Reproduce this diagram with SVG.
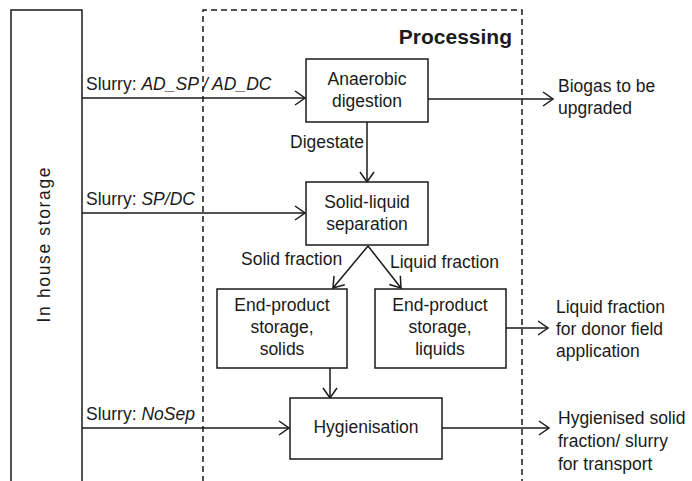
<svg xmlns="http://www.w3.org/2000/svg" width="692" height="481" viewBox="0 0 692 481">
  <style>
    text { font-family: "Liberation Sans", Arial, sans-serif; font-size: 17.5px; fill: #1a1a1a; }
    .c { text-anchor: middle; }
    .it { font-style: italic; }
    .box { fill: #ffffff; stroke: #1a1a1a; stroke-width: 1.5; }
    .edge { fill: none; stroke: #1a1a1a; stroke-width: 1.5; marker-end: url(#arrow); }
    .title { font-size: 21px; font-weight: bold; }
  </style>
  <defs>
    <marker id="arrow" markerWidth="14" markerHeight="16" refX="12" refY="8" orient="auto" markerUnits="userSpaceOnUse">
      <polyline points="2,1 12,8 2,15" fill="none" stroke="#1a1a1a" stroke-width="1.5"/>
    </marker>
  </defs>
  <rect width="692" height="481" fill="#ffffff"/>

  <!-- in-house storage column, open at the bottom -->
  <g id="storage">
    <path d="M11,482 V10 H82 V482" fill="none" stroke="#1a1a1a" stroke-width="1.5"/>
    <text class="c" transform="translate(50,245) rotate(-90)" textLength="155" lengthAdjust="spacing">In house storage</text>
  </g>

  <!-- processing boundary -->
  <g id="processing">
    <path d="M203,482 V10 H522 V482" fill="none" stroke="#1a1a1a" stroke-width="1.5" stroke-dasharray="6,4"/>
    <text class="title" x="512" y="44" text-anchor="end">Processing</text>
  </g>

  <g id="connectors">
    <line class="edge" x1="82" y1="98" x2="305" y2="98"/>
    <line class="edge" x1="428" y1="99" x2="553" y2="99"/>
    <line class="edge" x1="367" y1="122" x2="367" y2="182"/>
    <line class="edge" x1="82" y1="213" x2="305" y2="213"/>
    <line class="edge" x1="368" y1="246" x2="333" y2="288"/>
    <line class="edge" x1="368" y1="246" x2="401" y2="288"/>
    <line class="edge" x1="506" y1="328" x2="548" y2="328"/>
    <line class="edge" x1="330" y1="368" x2="330" y2="398"/>
    <line class="edge" x1="82" y1="428" x2="289" y2="428"/>
    <line class="edge" x1="442" y1="428" x2="549" y2="428"/>

    <text x="86" y="90">Slurry: <tspan class="it">AD_SP / AD_DC</tspan></text>
    <text x="290" y="148">Digestate</text>
    <text x="86" y="205">Slurry: <tspan class="it">SP/DC</tspan></text>
    <text x="241" y="265">Solid fraction</text>
    <text x="390" y="268">Liquid fraction</text>
    <text x="86" y="420">Slurry: <tspan class="it">NoSep</tspan></text>
  </g>

  <g id="anaerobic-digestion">
    <rect class="box" x="306" y="59" width="122" height="63"/>
    <text class="c" x="367" y="85">Anaerobic</text>
    <text class="c" x="367" y="107">digestion</text>
  </g>

  <g id="separation">
    <rect class="box" x="306" y="182" width="122" height="63"/>
    <text class="c" x="367" y="208">Solid-liquid</text>
    <text class="c" x="367" y="230">separation</text>
  </g>

  <g id="storage-solids">
    <rect class="box" x="217" y="289" width="130" height="79"/>
    <text class="c" x="282" y="311">End-product</text>
    <text class="c" x="282" y="333">storage,</text>
    <text class="c" x="282" y="355">solids</text>
  </g>

  <g id="storage-liquids">
    <rect class="box" x="375" y="289" width="131" height="79"/>
    <text class="c" x="440" y="311">End-product</text>
    <text class="c" x="440" y="333">storage,</text>
    <text class="c" x="440" y="355">liquids</text>
  </g>

  <g id="hygienisation">
    <rect class="box" x="290" y="398" width="152" height="61"/>
    <text class="c" x="366" y="433">Hygienisation</text>
  </g>

  <g id="biogas">
    <text x="558" y="92">Biogas to be</text>
    <text x="558" y="114">upgraded</text>
  </g>

  <g id="liquid-output">
    <text x="556" y="313">Liquid fraction</text>
    <text x="556" y="335">for donor field</text>
    <text x="556" y="357">application</text>
  </g>

  <g id="hygienised-output">
    <text x="558" y="424">Hygienised  solid</text>
    <text x="558" y="447">fraction/ slurry</text>
    <text x="558" y="470">for transport</text>
  </g>
</svg>
